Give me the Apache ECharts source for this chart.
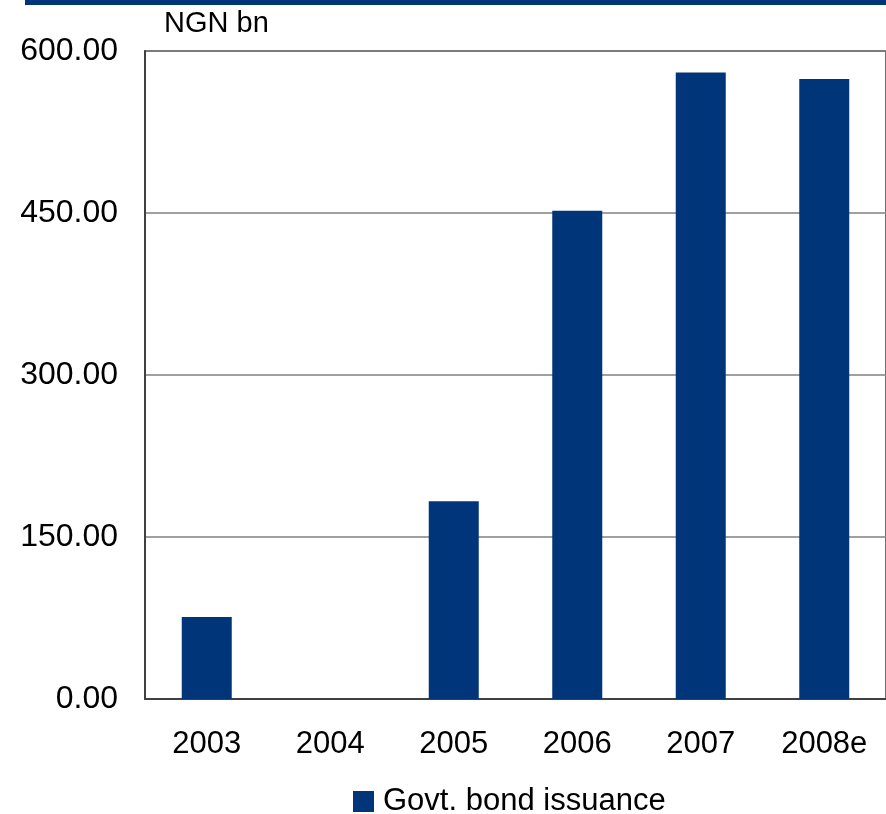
<!DOCTYPE html>
<html>
<head>
<meta charset="utf-8">
<script src="https://cdn.jsdelivr.net/npm/echarts@6/dist/echarts.min.js"></script>
<style>
html,body{margin:0;padding:0;background:#fff;}
#chart{width:886px;height:814px;}
</style>
</head>
<body>
<div id="chart"></div>
<script>
// Government bond issuance, NGN bn
const years = ['2003', '2004', '2005', '2006', '2007', '2008e'];
const issuance = [76, 0, 183, 452, 580, 574];
const yTicks = [0, 150, 300, 450, 600];

const font = '"Liberation Sans", Arial, sans-serif';
const chart = echarts.init(document.getElementById('chart'), null, {renderer: 'canvas'});

chart.setOption({
  animation: false,
  backgroundColor: '#ffffff',
  graphic: [
    {type: 'rect', shape: {x: 25, y: 0, width: 861, height: 5}, style: {fill: '#003679'}, silent: true},
    {type: 'text', left: 164, top: 9,
     style: {text: 'NGN bn', font: '29px "Liberation Sans", Arial, sans-serif', fill: '#000'}}
  ],
  grid: {left: 145, right: -3, top: 51, bottom: 115, show: true, borderColor: '#404040', borderWidth: 1.5, containLabel: false},
  legend: {
    top: 786, left: 353, padding: 0,
    itemWidth: 21, itemHeight: 21, itemGap: 10,
    icon: 'rect',
    textStyle: {fontFamily: font, fontSize: 31, color: '#000', padding: [0, 0, 0, 4]},
    data: ['Govt. bond issuance']
  },
  xAxis: {
    type: 'category',
    data: years,
    axisLine: {show: true, lineStyle: {color: '#404040', width: 2}},
    axisTick: {show: false},
    axisLabel: {fontFamily: font, fontSize: 31, color: '#000', margin: 30}
  },
  yAxis: {
    type: 'value',
    min: yTicks[0], max: yTicks[yTicks.length - 1], interval: 150,
    axisLine: {show: true, lineStyle: {color: '#404040', width: 2}},
    axisTick: {show: false},
    splitLine: {show: true, lineStyle: {color: '#808080', width: 1.5}},
    axisLabel: {fontFamily: font, fontSize: 32, color: '#000', margin: 27,
      formatter: v => v.toFixed(2)}
  },
  series: [{
    name: 'Govt. bond issuance',
    type: 'bar',
    data: issuance,
    barWidth: 50,
    itemStyle: {color: '#003679'}
  }]
});
</script>
</body>
</html>
